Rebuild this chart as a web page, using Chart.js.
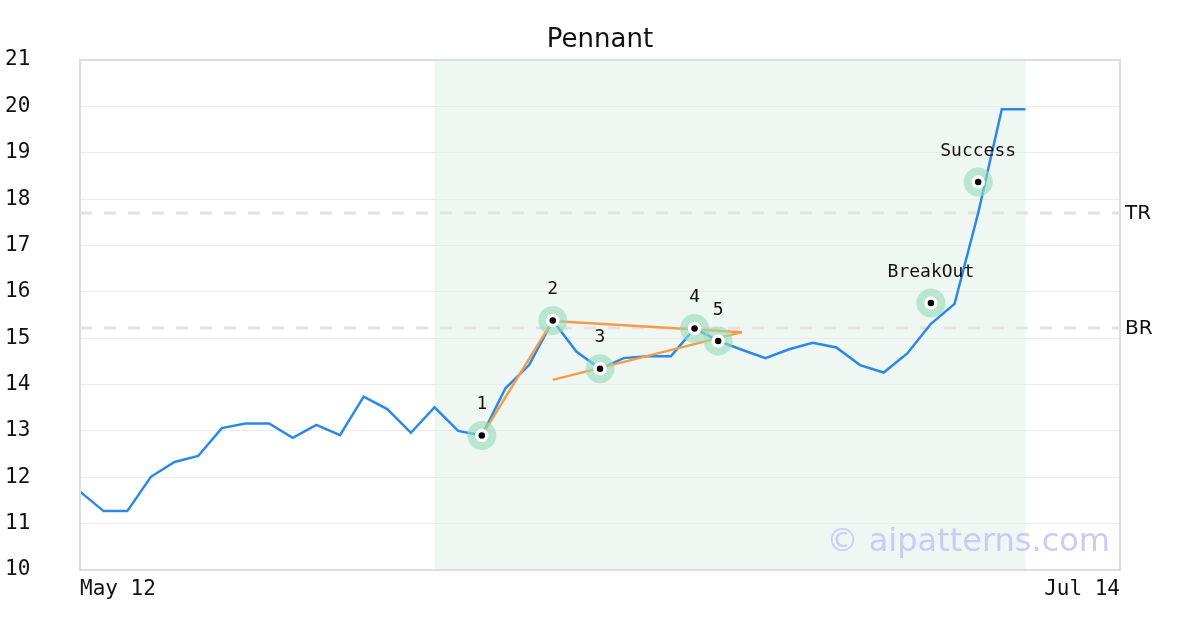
<!DOCTYPE html>
<html lang="en">
<head>
<meta charset="UTF-8">
<title>Pennant</title>
<style>
  body { margin: 0; padding: 0; background: #ffffff; }
  canvas { display: block; }
</style>
</head>
<body>
<canvas id="pennantChart" width="1200" height="630"></canvas>

<script src="https://cdn.jsdelivr.net/npm/chart.js@4.4.1/dist/chart.umd.min.js"></script>
<script>
// trading days on the x axis (only first and last are labelled)
const dates = [
  'May 12', 'May 13', 'May 14', 'May 15', 'May 16',
  'May 19', 'May 20', 'May 21', 'May 22', 'May 23',
  'May 27', 'May 28', 'May 29', 'May 30',
  'Jun 2', 'Jun 3', 'Jun 4', 'Jun 5', 'Jun 6',
  'Jun 9', 'Jun 10', 'Jun 11', 'Jun 12', 'Jun 13',
  'Jun 16', 'Jun 17', 'Jun 18', 'Jun 19', 'Jun 20',
  'Jun 23', 'Jun 24', 'Jun 25', 'Jun 26', 'Jun 27',
  'Jun 30', 'Jul 1', 'Jul 2', 'Jul 3', 'Jul 4',
  'Jul 7', 'Jul 8', 'Jul 9', 'Jul 10', 'Jul 11', 'Jul 14'
];

// closing prices
const prices = [
  11.69, 11.27, 11.27, 12.01, 12.33, 12.46, 13.06, 13.16, 13.16, 12.85,
  13.13, 12.91, 13.74, 13.47, 12.96, 13.51, 13.00, 12.90, 13.92, 14.42,
  15.38, 14.71, 14.34, 14.57, 14.61, 14.61, 15.21, 14.94, 14.75, 14.57,
  14.76, 14.90, 14.80, 14.42, 14.26, 14.67, 15.31, 15.74, 17.70, 19.94,
  19.94
];

// numbered pattern points
const pivotIdx = [17, 20, 22, 26, 27];
const pivotVals = [12.90, 15.38, 14.34, 15.21, 14.94];
const pivotNames = ['1', '2', '3', '4', '5'];

// breakout / target signals
const signalIdx = [36, 38];
const signalVals = [15.76, 18.37];
const signalNames = ['BreakOut', 'Success'];

// pennant lines: [startIdx, startVal, endIdx, endVal]
const poleLine = [17, 12.90, 20, 15.38];
const upperLine = [20, 15.37, 28, 15.13];
const lowerLine = [20, 14.10, 28, 15.13];

// horizontal levels
const levelNames = ['TR', 'BR'];
const levelVals = [17.70, 15.22];

// shaded pattern window
const zoneStart = 15;
const zoneEnd = 40;

const yTicksMin = 10;
const yTicksMax = 21;

const monoFont = 'DejaVu Sans Mono';

function seg(line) {
  return [{ x: dates[line[0]], y: line[1] }, { x: dates[line[2]], y: line[3] }];
}

const pivotPoints = pivotIdx.map((i, k) => ({ x: dates[i], y: pivotVals[k] }));
const signalPoints = signalIdx.map((i, k) => ({ x: dates[i], y: signalVals[k] }));
const allMarks = pivotPoints.concat(signalPoints);
const allNames = pivotNames.concat(signalNames);

const datasets = [
  {
    label: 'dots',
    data: allMarks,
    showLine: false,
    pointRadius: 5,
    pointBackgroundColor: '#000000',
    pointBorderColor: '#ffffff',
    pointBorderWidth: 3.5,
    order: 0
  },
  {
    label: 'halo',
    data: allMarks,
    showLine: false,
    pointRadius: 14.5,
    pointBackgroundColor: 'rgba(150, 220, 186, 0.62)',
    pointBorderWidth: 0,
    order: 1
  },
  { label: 'pole', data: seg(poleLine), borderColor: '#f79c45', borderWidth: 2.5, pointRadius: 0, order: 2 },
  { label: 'upper', data: seg(upperLine), borderColor: '#f79c45', borderWidth: 2.5, pointRadius: 0, order: 2 },
  { label: 'lower', data: seg(lowerLine), borderColor: '#f79c45', borderWidth: 2.5, pointRadius: 0, order: 2 },
  {
    label: 'price',
    data: prices,
    borderColor: '#2b88ea',
    borderWidth: 2.5,
    pointRadius: 0,
    tension: 0,
    order: 3
  }
];

levelVals.forEach((v, k) => {
  datasets.push({
    label: levelNames[k],
    data: [{ x: dates[0], y: v }, { x: dates[dates.length - 1], y: v }],
    borderColor: '#e2e2e2',
    borderWidth: 3,
    borderDash: [12, 12],
    pointRadius: 0,
    order: 4
  });
});

const decorPlugin = {
  id: 'decor',
  beforeDraw(chart) {
    const { ctx, chartArea, scales } = chart;
    const x0 = scales.x.getPixelForValue(zoneStart);
    const x1 = scales.x.getPixelForValue(zoneEnd);
    ctx.save();
    ctx.fillStyle = '#eff7f3';
    ctx.fillRect(x0, chartArea.top, x1 - x0, chartArea.bottom - chartArea.top);
    ctx.restore();
  },
  beforeDatasetsDraw(chart) {
    const { ctx, chartArea } = chart;
    ctx.save();
    ctx.font = '32px "DejaVu Sans"';
    ctx.fillStyle = '#cbcbf8';
    ctx.textAlign = 'right';
    ctx.textBaseline = 'middle';
    ctx.fillText('\u00a9 aipatterns.com', chartArea.right - 10, 543);
    ctx.restore();
  },
  afterDatasetsDraw(chart) {
    const { ctx, chartArea, scales } = chart;
    ctx.save();

    // marker captions
    const meta = chart.getDatasetMeta(0);
    ctx.fillStyle = '#111111';
    ctx.textAlign = 'center';
    ctx.textBaseline = 'middle';
    ctx.font = '18px "' + monoFont + '"';
    meta.data.forEach((pt, k) => {
      ctx.fillText(allNames[k], pt.x, pt.y - 31);
    });

    // plot frame
    ctx.strokeStyle = '#dddddd';
    ctx.lineWidth = 2;
    ctx.strokeRect(chartArea.left, chartArea.top, chartArea.right - chartArea.left, chartArea.bottom - chartArea.top);

    // level names
    ctx.font = '20px "DejaVu Sans"';
    ctx.textAlign = 'left';
    ctx.fillStyle = '#111111';
    levelVals.forEach((v, k) => {
      ctx.fillText(levelNames[k], chartArea.right + 5, scales.y.getPixelForValue(v) + 1);
    });

    // title
    ctx.font = '26px "DejaVu Sans"';
    ctx.textAlign = 'center';
    ctx.fillText('Pennant', (chartArea.left + chartArea.right) / 2, 40);
    ctx.restore();
  }
};

new Chart(document.getElementById('pennantChart').getContext('2d'), {
  type: 'line',
  data: { labels: dates, datasets: datasets },
  options: {
    responsive: false,
    animation: false,
    events: [],
    layout: { padding: { top: 60, right: 80, left: 5, bottom: 0 } },
    plugins: {
      legend: { display: false },
      tooltip: { enabled: false },
      title: { display: false }
    },
    scales: {
      x: {
        type: 'category',
        grid: { display: false, drawTicks: false },
        border: { display: false },
        ticks: {
          autoSkip: false,
          maxRotation: 0,
          align: 'inner',
          padding: 7,
          color: '#111111',
          font: { family: monoFont, size: 21 },
          callback: function(value, index) {
            return (index === 0 || index === dates.length - 1) ? dates[index] : '';
          }
        },
        afterFit(scale) { scale.height = 60; }
      },
      y: {
        min: yTicksMin,
        max: yTicksMax,
        grid: { color: '#ebebeb', lineWidth: 1, drawTicks: false },
        border: { display: false },
        ticks: {
          stepSize: 1,
          crossAlign: 'far',
          color: '#111111',
          font: { family: monoFont, size: 21 }
        },
        afterFit(scale) { scale.width = 75; }
      }
    }
  },
  plugins: [decorPlugin]
});
</script>
</body>
</html>
